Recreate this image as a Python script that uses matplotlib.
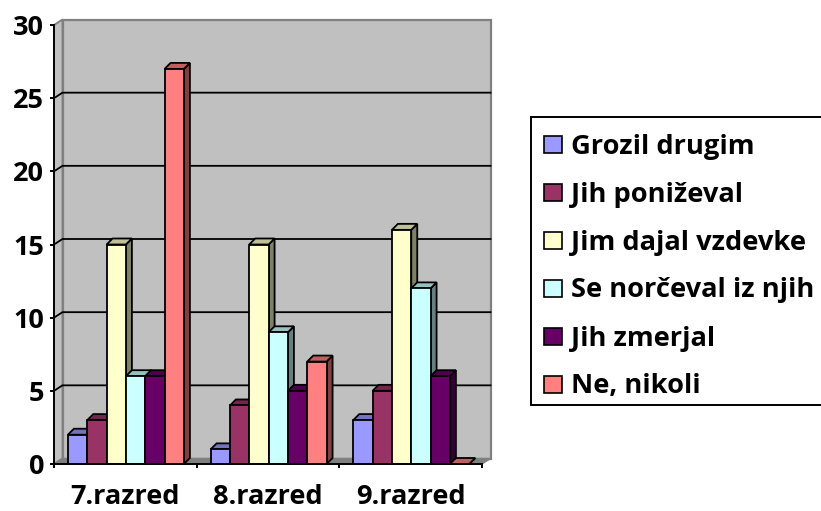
import numpy as np
import matplotlib
matplotlib.use('Agg')
import matplotlib.pyplot as plt
from matplotlib.colors import to_rgb
from matplotlib.patches import Polygon, Rectangle

categories = ['7.razred', '8.razred', '9.razred']
series_names = ['Grozil drugim', 'Jih poniževal', 'Jim dajal vzdevke',
                'Se norčeval iz njih', 'Jih zmerjal', 'Ne, nikoli']
grozil = [2, 1, 3]
ponizeval = [3, 4, 5]
vzdevke = [15, 15, 16]
norceval = [6, 9, 12]
zmerjal = [6, 5, 6]
nikoli = [27, 7, 0]
y_ticks = [0, 5, 10, 15, 20, 25, 30]
colors = ['#9999FF', '#993366', '#FFFFCC', '#CCFFFF', '#660066', '#FF8080']

W, H = 821, 511
plt.rcParams['font.family'] = ['Open Sans', 'DejaVu Sans']
plt.rcParams['font.weight'] = 'bold'

fig = plt.figure(figsize=(W / 100, H / 100), dpi=100, facecolor='white')

# front plane of the fake 3d box, in pixels
left, right, bottom, top = 54, 482, 464, 25
ax = fig.add_axes([left / W, 1 - bottom / H, (right - left) / W, (bottom - top) / H])
ax.set_xlim(0, 3)
ax.set_ylim(0, 30)
ax.patch.set_visible(False)

px_x = (right - left) / 3
px_y = (bottom - top) / 30
wall_dx, wall_dy = 8.5 / px_x, 5.5 / px_y
bar_dx, bar_dy = 6 / px_x, 6 / px_y


def shade(color, f):
    return tuple(c * f for c in to_rgb(color))


# walls and floor
ax.add_patch(Polygon([(wall_dx, wall_dy), (3 + wall_dx, wall_dy), (3 + wall_dx, 30 + wall_dy), (wall_dx, 30 + wall_dy)],
                     fc='#C0C0C0', ec='#808080', lw=1.6, zorder=1, clip_on=False))
ax.add_patch(Polygon([(0, 0), (wall_dx, wall_dy), (wall_dx, 30 + wall_dy), (0, 30)],
                     fc='#C0C0C0', ec='#808080', lw=1.4, zorder=1, clip_on=False))
ax.add_patch(Polygon([(0, 0), (3, 0), (3 + wall_dx, wall_dy), (wall_dx, wall_dy)],
                     fc='#808080', ec='#808080', lw=1, zorder=1, clip_on=False))

for v in y_ticks[1:-1]:
    ax.plot([0, wall_dx, 3 + wall_dx], [v, v + wall_dy, v + wall_dy], color='black', lw=1.3, zorder=2, clip_on=False)

# bars
data = [grozil, ponizeval, vzdevke, norceval, zmerjal, nikoli]
bar_w = 1 / (len(data) + 1.38)
start = 0.72 * bar_w
z = 3
for i in range(len(categories)):
    for j, values in enumerate(data):
        x0 = i + start + j * bar_w
        x1 = x0 + bar_w
        v = values[i]
        c = colors[j]
        ax.add_patch(Polygon([(x1, 0), (x1 + bar_dx, bar_dy), (x1 + bar_dx, v + bar_dy), (x1, v)],
                             fc=shade(c, 0.5), ec='black', lw=1.3, zorder=z, clip_on=False))
        ax.add_patch(Polygon([(x0, v), (x1, v), (x1 + bar_dx, v + bar_dy), (x0 + bar_dx, v + bar_dy)],
                             fc=shade(c, 0.75), ec='black', lw=1.3, zorder=z, clip_on=False))
        if v > 0:
            ax.bar(x0, v, width=bar_w, align='edge', color=c, edgecolor='black', lw=1.3, zorder=z)
        z += 1

for s in ['top', 'right']:
    ax.spines[s].set_visible(False)
for s in ['left', 'bottom']:
    ax.spines[s].set_linewidth(1.4)
    ax.spines[s].set_zorder(60)

ax.set_yticks(y_ticks)
ax.set_yticklabels([str(v) for v in y_ticks], fontsize=19.5, fontweight='bold')
ax.set_xticks([0, 1, 2, 3])
ax.set_xticklabels([])
ax.set_xticks([0.5, 1.5, 2.5], minor=True)
ax.set_xticklabels(categories, minor=True, fontsize=19.5, fontweight='bold')
ax.tick_params(axis='x', which='minor', length=0, pad=14.5)
ax.tick_params(axis='both', which='major', length=3, width=1.4)
ax.tick_params(axis='y', pad=4)

# legend, runs off the right edge like the source image
lax = fig.add_axes([0, 0, 1, 1], facecolor='none')
lax.set_xlim(0, W)
lax.set_ylim(H, 0)
lax.axis('off')
lax.add_patch(Rectangle((531, 117), 320, 288, fc='white', ec='black', lw=1.4))
legend_y = [145, 193, 241, 288.5, 337, 385]
for name, c, y in zip(series_names, colors, legend_y):
    lax.add_patch(Rectangle((543.5, y - 8.5), 18, 17, fc=c, ec='black', lw=1.2))
    lax.text(571, y + 1.5, name, fontsize=19.6, fontweight='bold', va='center', ha='left', color='black')

fig.savefig('out.png', dpi=100, facecolor='white')
